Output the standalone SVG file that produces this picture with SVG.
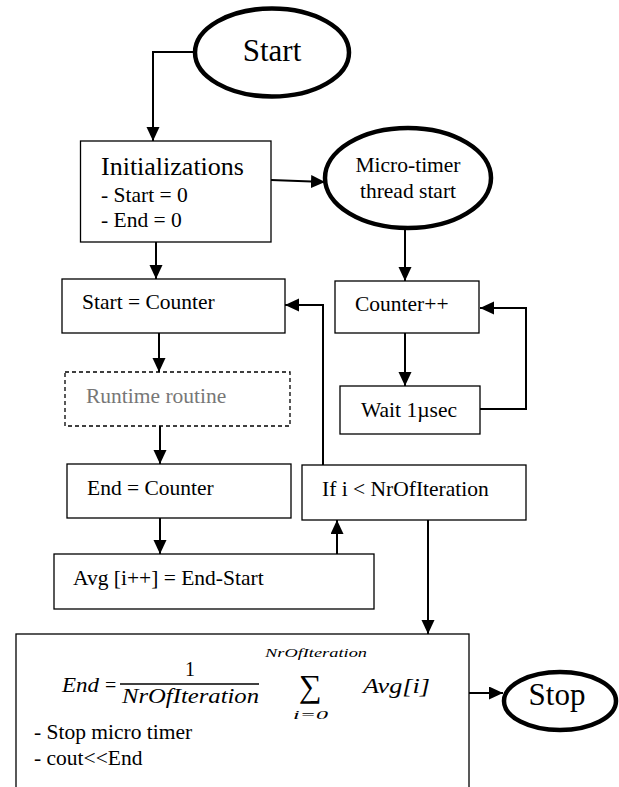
<svg xmlns="http://www.w3.org/2000/svg" width="619" height="787" viewBox="0 0 619 787">
<defs>
<marker id="ah" markerUnits="userSpaceOnUse" markerWidth="15" markerHeight="14" refX="14" refY="6.5" orient="auto">
<path d="M0,0 L14,6.5 L0,13 z" fill="#000"/>
</marker>
<style>
.term{fill:#fff;stroke:#000;stroke-width:4.5}
.box{fill:#fff;stroke:#000;stroke-width:1.3}
.dash{fill:#fff;stroke:#000;stroke-width:1.3;stroke-dasharray:4 3}
.t{font-size:21.5px;fill:#000}
.big{font-size:31px}
.gray{fill:#777}
.m{font-style:italic;fill:#000}
.c{fill:none;stroke:#000;stroke-width:2;marker-end:url(#ah)}
</style>
</defs>
<rect width="619" height="787" fill="#fff"/>
<g id="connectors">
<path class="c" d="M194,52 H153 V141"/>
<path class="c" d="M271,180 L325,182"/>
<path class="c" d="M405,228 V281"/>
<path class="c" d="M156,242 V279"/>
<path class="c" d="M159,333 V372"/>
<path class="c" d="M160,426 V464"/>
<path class="c" d="M160,518 V554"/>
<path class="c" d="M337,554 V520"/>
<path class="c" d="M323,465 V305 H285"/>
<path class="c" d="M405,333 V386"/>
<path class="c" d="M480,409 H526 V308 H480"/>
<path class="c" d="M428,520 V634"/>
<path class="c" d="M469,693 H503"/>
</g>
<g font-family="Liberation Serif, Tinos, Times New Roman, Times, Noto Serif, FreeSerif, DejaVu Serif, serif">
<g id="start">
<ellipse class="term" cx="272" cy="52.5" rx="77" ry="44"/>
<text class="t big" x="272" y="61" text-anchor="middle">Start</text>
</g>
<g id="init">
<rect class="box" x="80.5" y="141" width="190.5" height="101"/>
<text class="t" x="101" y="175" style="font-size:26px">Initializations</text>
<text class="t" x="101" y="202">- Start = 0</text>
<text class="t" x="101" y="227">- End = 0</text>
</g>
<g id="microtimer">
<ellipse class="term" cx="408" cy="178" rx="83" ry="50"/>
<text class="t" x="408" y="172" text-anchor="middle">Micro-timer</text>
<text class="t" x="408" y="198" text-anchor="middle">thread start</text>
</g>
<g id="startcounter">
<rect class="box" x="62" y="279" width="223" height="54"/>
<text class="t" x="82" y="309">Start = Counter</text>
</g>
<g id="counterinc">
<rect class="box" x="335" y="281" width="144" height="52"/>
<text class="t" x="355" y="311">Counter++</text>
</g>
<g id="runtime">
<rect class="dash" x="65" y="372" width="225" height="54"/>
<text class="t gray" x="86" y="403">Runtime routine</text>
</g>
<g id="wait">
<rect class="box" x="340" y="386" width="140" height="48"/>
<text class="t" x="361" y="417">Wait 1µsec</text>
</g>
<g id="endcounter">
<rect class="box" x="67" y="464" width="224" height="54"/>
<text class="t" x="87" y="495">End = Counter</text>
</g>
<g id="ifcond">
<rect class="box" x="302" y="465" width="224" height="55"/>
<text class="t" x="322" y="496">If i &lt; NrOfIteration</text>
</g>
<g id="avg">
<rect class="box" x="54" y="554" width="320" height="55"/>
<text class="t" x="73" y="585">Avg [i++] = End-Start</text>
</g>
<g id="final">
<rect class="box" x="16" y="634" width="453" height="170"/>
<text class="m" x="62" y="692" font-size="20" textLength="37" lengthAdjust="spacingAndGlyphs">End</text>
<text x="105" y="692" font-size="20">=</text>
<text x="190" y="676" font-size="20" text-anchor="middle">1</text>
<line x1="120" y1="684" x2="259" y2="684" stroke="#000" stroke-width="1.5"/>
<text class="m" x="122" y="703" font-size="20" textLength="137" lengthAdjust="spacingAndGlyphs">NrOfIteration</text>
<text class="m" x="265" y="657" font-size="13" textLength="102" lengthAdjust="spacingAndGlyphs">NrOfIteration</text>
<text x="310.5" y="697" font-size="32" text-anchor="middle">∑</text>
<text class="m" x="293" y="719" font-size="13" textLength="35" lengthAdjust="spacingAndGlyphs">i=0</text>
<text class="m" x="363" y="693" font-size="20" textLength="67" lengthAdjust="spacingAndGlyphs">Avg[i]</text>
<text class="t" x="34" y="739">- Stop micro timer</text>
<text class="t" x="34" y="765">- cout&lt;&lt;End</text>
</g>
<g id="stop">
<ellipse class="term" cx="560" cy="701" rx="56" ry="29"/>
<text class="t big" x="557" y="705" text-anchor="middle">Stop</text>
</g>
</g>
</svg>
